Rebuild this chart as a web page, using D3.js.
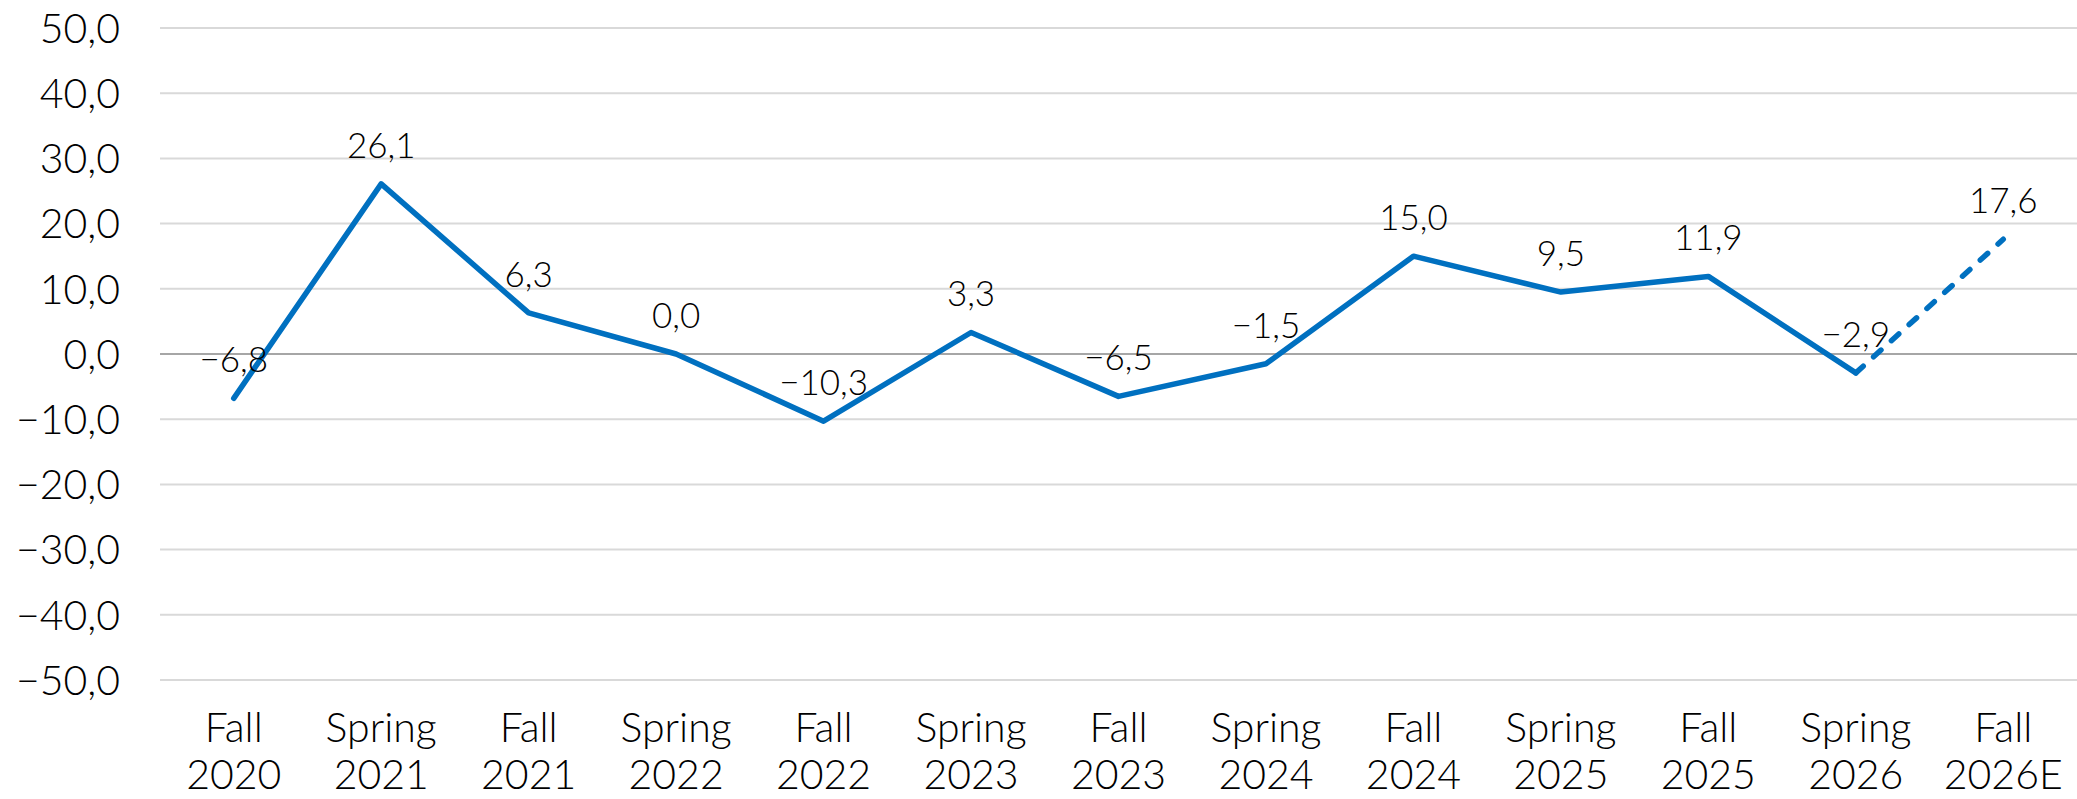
<!DOCTYPE html>
<html>
<head>
<meta charset="utf-8">
<script src="https://cdn.jsdelivr.net/npm/d3@7"></script>
<style>
    body { margin: 0; background: #fff; }
    svg text { font-family: Lato, "Open Sans", sans-serif; font-weight: 300; fill: #000; }
</style>
</head>
<body>
<div id="graphique"></div>
<script>
// saisons (deux lignes par etiquette)
const saisons = ["Fall", "Spring", "Fall", "Spring", "Fall", "Spring", "Fall", "Spring", "Fall", "Spring", "Fall", "Spring", "Fall"];
const annees = ["2020", "2021", "2021", "2022", "2022", "2023", "2023", "2024", "2024", "2025", "2025", "2026", "2026E"];
const valeurs = [-6.8, 26.1, 6.3, 0.0, -10.3, 3.3, -6.5, -1.5, 15.0, 9.5, 11.9, -2.9, 17.6];
const yTicks = [50, 40, 30, 20, 10, 0, -10, -20, -30, -40, -50];
const indexEstimation = 11; // a partir d'ici la ligne est en pointilles

function AffichageGraph(data) {
    const width = 2077, height = 799;
    const margin = { top: 28, right: 0, bottom: 119, left: 160 };
    const innerWidth = width - margin.left - margin.right;
    const innerHeight = height - margin.top - margin.bottom;

    const locale = d3.formatLocale({ decimal: ",", thousands: " ", grouping: [3], currency: ["", ""], minus: "\u2212" });
    const fmt = locale.format(".1f");

    const svg = d3.select("#graphique").append("svg")
        .attr("width", width)
        .attr("height", height)
        .append("g")
        .attr("transform", `translate(${margin.left},${margin.top})`);

    const xScale = d3.scaleBand()
        .domain(data.map(d => d.id))
        .range([0, innerWidth]);

    const yScale = d3.scaleLinear()
        .domain([-50, 50])
        .range([innerHeight, 0]);

    const cx = d => xScale(d.id) + xScale.bandwidth() / 2;

    // lignes de grille
    svg.selectAll(".grid")
        .data(yTicks)
        .enter()
        .append("line")
        .attr("class", "grid")
        .attr("x1", 0)
        .attr("x2", innerWidth)
        .attr("y1", d => yScale(d))
        .attr("y2", d => yScale(d))
        .style("stroke", d => d === 0 ? "#a6a6a6" : "#d9d9d9")
        .style("stroke-width", 2);

    // axe ordonnee
    svg.selectAll(".y-label")
        .data(yTicks)
        .enter()
        .append("text")
        .attr("class", "y-label")
        .attr("x", -40)
        .attr("y", d => yScale(d))
        .attr("dy", "0.36em")
        .attr("text-anchor", "end")
        .style("font-size", "41px")
        .text(d => fmt(d));

    // etiquettes axe abscisse
    const xLabels = svg.selectAll(".x-label")
        .data(data)
        .enter()
        .append("text")
        .attr("class", "x-label")
        .attr("text-anchor", "middle")
        .style("font-size", "41px");
    xLabels.append("tspan")
        .attr("x", cx)
        .attr("y", innerHeight + 62)
        .text(d => d.saison);
    xLabels.append("tspan")
        .attr("x", cx)
        .attr("y", innerHeight + 109)
        .text(d => d.annee);

    const line = d3.line()
        .x(cx)
        .y(d => yScale(d.valeur));

    // partie reelle
    svg.append("path")
        .datum(data.slice(0, indexEstimation + 1))
        .attr("d", line)
        .style("fill", "none")
        .style("stroke", "#0070c0")
        .style("stroke-width", 5.5)
        .style("stroke-linejoin", "round")
        .style("stroke-linecap", "round");

    // estimation
    svg.append("path")
        .datum(data.slice(indexEstimation))
        .attr("d", line)
        .style("fill", "none")
        .style("stroke", "#0070c0")
        .style("stroke-width", 5.5)
        .style("stroke-dasharray", "10,14")
        .style("stroke-linecap", "round");

    // valeurs au dessus des points
    svg.selectAll(".val-text")
        .data(data)
        .enter()
        .append("text")
        .attr("class", "val-text")
        .attr("x", cx)
        .attr("y", d => yScale(d.valeur) - 26)
        .attr("text-anchor", "middle")
        .style("font-size", "35px")
        .text(d => fmt(d.valeur));
}

const donnees = valeurs.map((v, i) => ({ id: i, saison: saisons[i], annee: annees[i], valeur: v }));
AffichageGraph(donnees);
</script>
</body>
</html>
